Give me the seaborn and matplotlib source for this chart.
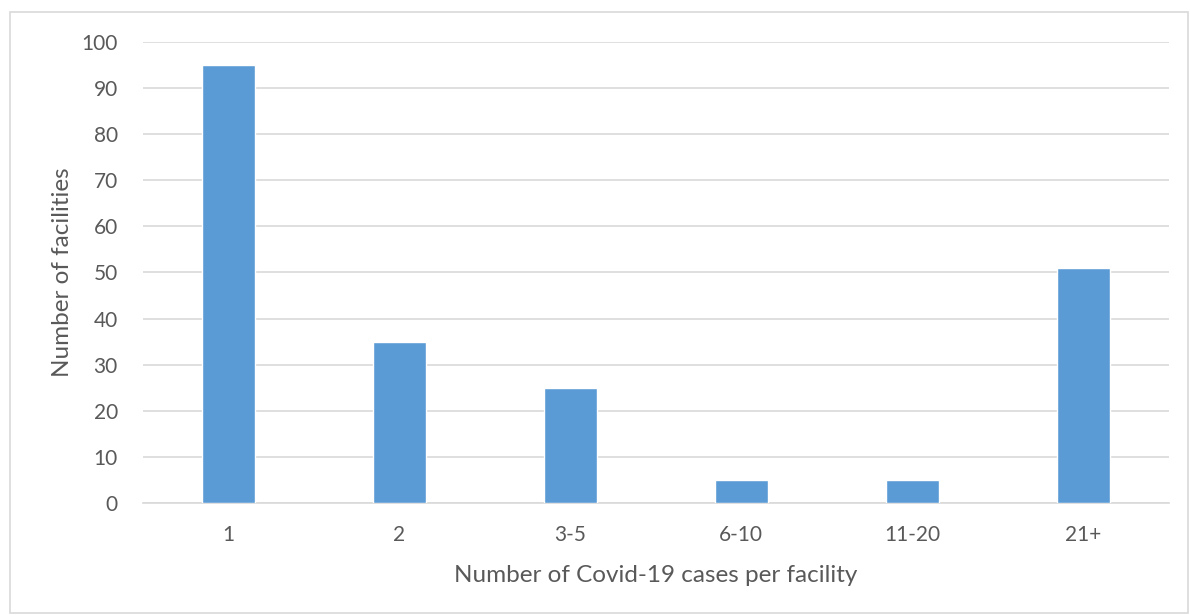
import matplotlib
matplotlib.use("Agg")
import matplotlib.pyplot as plt
import seaborn as sns
import pandas as pd

categories = ["1", "2", "3-5", "6-10", "11-20", "21+"]
facilities = [95, 35, 25, 5, 5, 51]

df = pd.DataFrame({"cases": categories, "facilities": facilities})

sns.set_style("white")
plt.rcParams["font.family"] = ["Lato", "DejaVu Sans"]

fig = plt.figure(figsize=(11.9, 6.15), dpi=100)
ax = fig.add_axes([0.120, 0.182, 0.862, 0.750])

sns.barplot(df, x="cases", y="facilities", color="#5B9BD5", width=0.31,
            saturation=1, ax=ax, zorder=3)

ax.set_ylim(0, 100)
ax.set_yticks(range(0, 101, 10))
ax.yaxis.grid(True, color="#D9D9D9", linewidth=1.2, zorder=0)
ax.set_axisbelow(True)
for side in ["top", "right", "left"]:
    ax.spines[side].set_visible(False)
ax.spines["bottom"].set_color("#D9D9D9")
ax.spines["bottom"].set_linewidth(1.2)
ax.tick_params(axis="both", length=0, labelsize=15, colors="#595959")
ax.tick_params(axis="x", pad=16)
ax.tick_params(axis="y", pad=18)
ax.set_xlabel("Number of Covid-19 cases per facility", fontsize=17.5, color="#595959", labelpad=14)
ax.set_ylabel("Number of facilities", fontsize=17.5, color="#595959", labelpad=6)

# outer frame of the chart
fig.patches.append(plt.Rectangle((0.008, 0.004), 0.99, 0.976, transform=fig.transFigure,
                                 fill=False, edgecolor="#D9D9D9", linewidth=1.2))

fig.savefig("out.png", dpi=100)
